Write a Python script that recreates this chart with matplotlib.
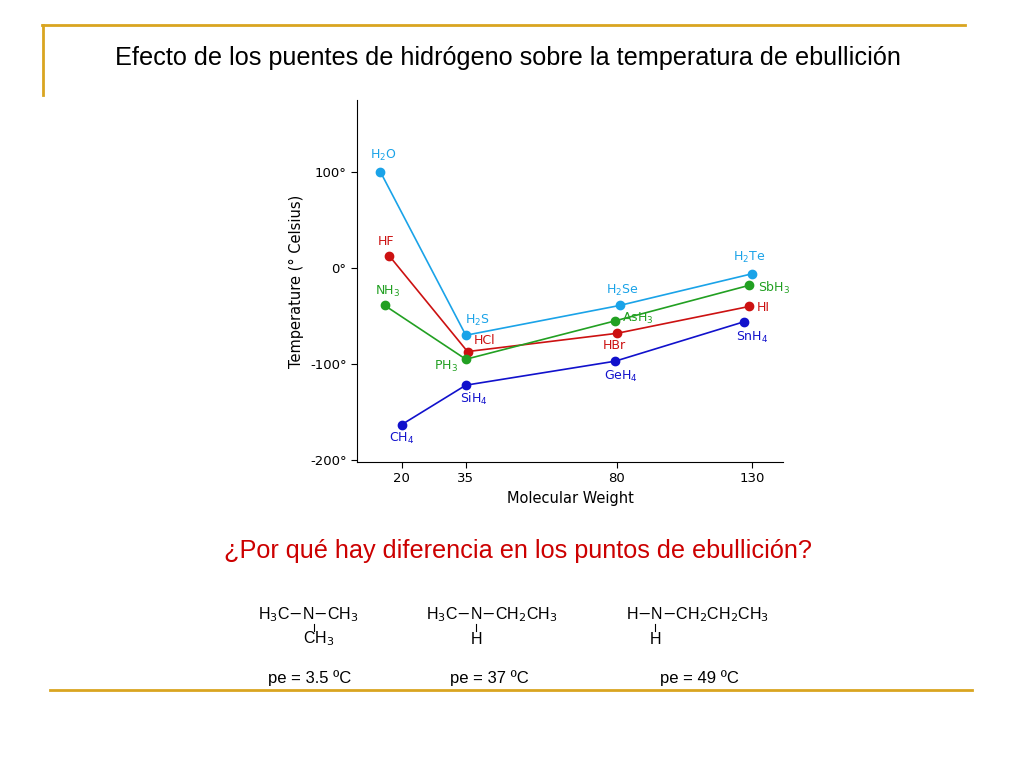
import matplotlib
matplotlib.use("Agg")
import matplotlib.pyplot as plt
import numpy as np
from matplotlib.lines import Line2D

# Data (molecular weight axis positions as drawn, boiling points in °C)
row2_x = [15, 17, 16, 20]
row3_x = [35, 35.5, 35, 35]
row4_x = [81, 80, 79.5, 79.5]
row5_x = [130, 129, 129, 127]
group16 = [100, -70, -39, -6]      # H2O H2S H2Se H2Te
group17 = [13, -87, -68, -40]      # HF HCl HBr HI
group15 = [-39, -95, -55, -18]     # NH3 PH3 AsH3 SbH3
group14 = [-163, -122, -97, -56]   # CH4 SiH4 GeH4 SnH4
labels16 = ["H$_2$O", "H$_2$S", "H$_2$Se", "H$_2$Te"]
labels17 = ["HF", "HCl", "HBr", "HI"]
labels15 = ["NH$_3$", "PH$_3$", "AsH$_3$", "SbH$_3$"]
labels14 = ["CH$_4$", "SiH$_4$", "GeH$_4$", "SnH$_4$"]
xticks = [20, 35, 80, 130]
yticks = [100, 0, -100, -200]

fig = plt.figure(figsize=(10.24, 7.68), dpi=100)
W, H = 1024, 768
def fx(px): return px / W
def fy(py): return 1 - py / H

gold = "#d9a520"
fig.add_artist(Line2D([fx(42), fx(965)], [fy(25), fy(25)], color=gold, lw=2))
fig.add_artist(Line2D([fx(43), fx(43)], [fy(25), fy(95)], color=gold, lw=2))
fig.add_artist(Line2D([fx(50), fx(972)], [fy(690), fy(690)], color=gold, lw=2))

fig.text(fx(508), fy(58), "Efecto de los puentes de hidrógeno sobre la temperatura de ebullición",
         ha="center", va="center", fontsize=18.2, family="Liberation Sans")
fig.text(fx(518), fy(551), "¿Por qué hay diferencia en los puntos de ebullición?",
         ha="center", va="center", fontsize=18.2, family="Liberation Sans", color="#cc0000")

ax = fig.add_axes([fx(357), fy(462), fx(783) - fx(357), (462 - 100) / H])
kx = [-100, 20, 35, 80, 130, 300]
kp = [-110, 402, 466, 617, 752, 1211]
ax.set_xscale("function", functions=(lambda x: np.interp(x, kx, kp), lambda p: np.interp(p, kp, kx)))
ax.set_xlim(9.5, 141.5)
ax.set_ylim(-202, 175)
for s in ["top", "right"]:
    ax.spines[s].set_visible(False)
ax.set_xticks(xticks)
ax.set_xticklabels([str(t) for t in xticks])
ax.set_yticks(yticks)
ax.set_yticklabels([f"{t}°" for t in yticks])
ax.tick_params(labelsize=9.5, length=4)
ax.set_xlabel("Molecular Weight", fontsize=10.5)
ax.set_ylabel("Temperature (° Celsius)", fontsize=10.5)

xs = [row2_x, row3_x, row4_x, row5_x]
series = [
    (group16, labels16, "#1aa3e8", [(2, 12), (8, 11), (2, 11), (-2, 12)]),
    (group17, labels17, "#cc1111", [(-2, 10), (12, 8), (-2, -9), (10, -1)]),
    (group15, labels15, "#22a022", [(2, 10), (-14, -5), (16, 2), (18, -2)]),
    (group14, labels14, "#1111cc", [(0, -10), (6, -10), (4, -11), (6, -11)]),
]
for idx, (vals, labs, col, offs) in enumerate(series):
    xv = [row[idx] for row in xs]
    ax.plot(xv, vals, "-o", color=col, ms=6, lw=1.2)
    for xi, yi, lab, off in zip(xv, vals, labs, offs):
        ax.annotate(lab, (xi, yi), xytext=off, textcoords="offset points",
                    ha="center", va="center", color=col, fontsize=9)

# Structures
fs = 11.5
fam = "Liberation Sans"
def t(px, py, s, ha="left", size=fs):
    fig.text(fx(px), fy(py), s, fontsize=size, family=fam, ha=ha, va="center")
t(258, 615, "H$_3$C$-$N$-$CH$_3$")
t(303, 639, "CH$_3$")
fig.add_artist(Line2D([fx(314), fx(314)], [fy(624), fy(631)], color="black", lw=0.8))
t(426, 615, "H$_3$C$-$N$-$CH$_2$CH$_3$")
t(471, 639, "H")
fig.add_artist(Line2D([fx(476), fx(476)], [fy(624), fy(631)], color="black", lw=0.8))
t(626, 615, "H$-$N$-$CH$_2$CH$_2$CH$_3$")
t(650, 639, "H")
fig.add_artist(Line2D([fx(655), fx(655)], [fy(624), fy(631)], color="black", lw=0.8))
t(310, 678, "pe = 3.5 ºC", ha="center", size=12)
t(489, 678, "pe = 37 ºC", ha="center", size=12)
t(699, 678, "pe = 49 ºC", ha="center", size=12)

fig.savefig("out.png", dpi=100)
